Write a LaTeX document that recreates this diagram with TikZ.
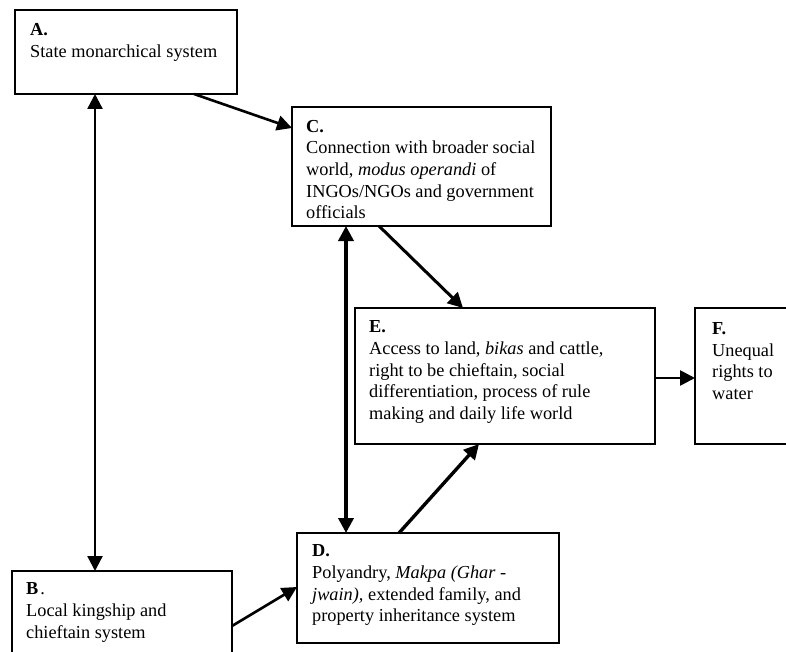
\documentclass[tikz,border=0pt]{standalone}
\usepackage{fontspec}
\setmainfont{Liberation Serif}
\usetikzlibrary{arrows.meta}
\begin{document}
\begin{tikzpicture}[x=1pt,y=-1pt,
  box/.style={draw,line width=1.8pt,inner sep=0pt,outer sep=0pt,anchor=north west},
  txt/.style={anchor=north west,inner sep=0pt,align=left,font=\fontsize{18.3}{21.7}\selectfont},
  tip/.style={},
  arr/.style={line width=2.6pt,-{Triangle[length=15pt 0,width=15pt 0]}},
  darr/.style={line width=2.6pt,{Triangle[length=15pt 0,width=15pt 0]}-{Triangle[length=15pt 0,width=15pt 0]}}
]
\clip (0,0) rectangle (786,652);
\fill[white] (0,0) rectangle (786,652);
% boxes
\node[box,minimum width=222pt,minimum height=84pt] (A) at (15,10) {};
\node[box,minimum width=259pt,minimum height=119pt] (C) at (292,107) {};
\node[box,minimum width=300pt,minimum height=136pt] (E) at (355,308) {};
\node[box,minimum width=200pt,minimum height=136pt] (F) at (695,308) {};
\node[box,minimum width=262pt,minimum height=110pt] (D) at (297,533) {};
\node[box,minimum width=220pt,minimum height=140pt] (B) at (12,571) {};
% texts
\node[txt] (At) at ([xshift=15pt,yshift=-13.7pt]A.north west) {\textbf{A.}\\State monarchical system};
\node[txt] (Ct) at ([xshift=14pt,yshift=-12.7pt]C.north west) {\textbf{C.}\\Connection with broader social\\world, \textit{modus operandi} of\\INGOs/NGOs and government\\officials};
\node[txt] (Et) at ([xshift=14pt,yshift=-12.7pt]E.north west) {\textbf{E.}\\Access to land, \textit{bikas} and cattle,\\right to be chieftain, social\\differentiation, process of rule\\making and daily life world};
\node[txt] (Ft) at ([xshift=17pt,yshift=-14.2pt]F.north west) {\textbf{F.}\\Unequal\\rights to\\water};
\node[txt] (Dt) at ([xshift=15pt,yshift=-11.7pt]D.north west) {\textbf{D.}\\Polyandry, \textit{Makpa (Ghar -}\\\textit{jwain),} extended family, and\\property inheritance system};
\node[txt] (Bt) at ([xshift=14pt,yshift=-11.7pt]B.north west) {\textbf{B}\hspace{2pt}.\\Local kingship and\\chieftain system};
% connectors
\draw[darr,line width=2.4pt] ([xshift=80pt]A.south west) -- ([xshift=83pt]B.north west);
\draw[arr] ([xshift=179pt]A.south west) -- ([yshift=-21pt]C.north west);
\draw[darr,line width=3.6pt] ([xshift=54pt]C.south west) -- ([xshift=49pt]D.north west);
\draw[arr,line width=3pt] ([xshift=87pt]C.south west) -- ([xshift=108pt]E.north west);
\draw[arr,line width=3.4pt] ([xshift=102pt]D.north west) -- ([xshift=124pt]E.south west);
\draw[arr] ([yshift=-55pt]B.north east) -- ([yshift=-54pt]D.north west);
\draw[arr] ([yshift=-70pt]E.north east) -- ([yshift=-70pt]F.north west);
\end{tikzpicture}
\end{document}
